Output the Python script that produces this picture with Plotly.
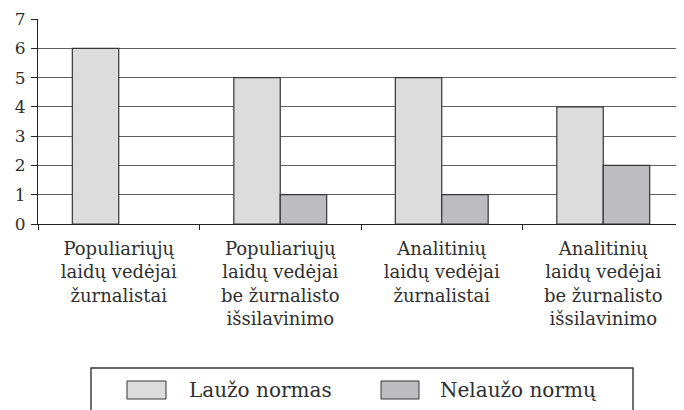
import plotly.graph_objects as go

categories = [
    "Populiariųjų<br>laidų vedėjai<br>žurnalistai",
    "Populiariųjų<br>laidų vedėjai<br>be žurnalisto<br>išsilavinimo",
    "Analitinių<br>laidų vedėjai<br>žurnalistai",
    "Analitinių<br>laidų vedėjai<br>be žurnalisto<br>išsilavinimo",
]
series_names = ["Laužo normas", "Nelaužo normų"]
lauzo = [6, 5, 5, 4]
nelauzo = [0, 1, 1, 2]
y_ticks = [0, 1, 2, 3, 4, 5, 6, 7]

colors = ["#dcdcdd", "#bdbdc1"]
edge = "#353535"
FONT = "DejaVu Serif"

OFF = 8  # page offset of the figure in the browser
W, H = 684, 410
L, R, T, B = 30, 8, 11, 194
PW, PH = W - L - R, H - T - B


def px(x):
    return (x - OFF - L) / PW


def py(y):
    return (H - B - (y - OFF)) / PH


fig = go.Figure()
for name, vals, c in zip(series_names, [lauzo, nelauzo], colors):
    fig.add_trace(go.Bar(
        x=categories, y=vals, name=name,
        marker=dict(color=c, line=dict(
            color=edge, width=[0 if v == 0 else 1.2 for v in vals])),
        showlegend=False,
    ))

fig.update_layout(
    width=W, height=H,
    margin=dict(l=L, r=R, t=T, b=B, pad=0, autoexpand=False),
    paper_bgcolor="white", plot_bgcolor="white",
    barmode="group", bargap=0.425, bargroupgap=0,
    font=dict(family=FONT, color="#2e2e2e", size=17),
    xaxis=dict(
        type="category", tickson="boundaries", ticks="outside", ticklen=5,
        tickcolor="#222", showline=True, linecolor="#222", linewidth=1.2,
        showgrid=False, tickfont=dict(family=FONT, size=18, color="#2e2e2e"),
        ticklabelstandoff=8, automargin=False,
    ),
    yaxis=dict(
        range=[0, 7], tickvals=y_ticks, ticks="outside", ticklen=6,
        tickcolor="#222", showline=True, linecolor="#222", linewidth=1.2,
        showgrid=True, gridcolor="#5f5f5f", gridwidth=1,
        tickfont=dict(family=FONT, size=17, color="#2e2e2e"), zeroline=False,
        ticklabelstandoff=2, automargin=False,
    ),
)

# legend box
fig.add_shape(type="rect", xref="paper", yref="paper",
              x0=px(91), x1=px(633), y0=py(368), y1=py(440),
              line=dict(color="#333", width=1.4), fillcolor="rgba(0,0,0,0)")

swatches = [(127, 166, 187), (381, 419, 438)]
for (sx0, sx1, tx), name, c in zip(swatches, series_names, colors):
    fig.add_shape(type="rect", xref="paper", yref="paper",
                  x0=px(sx0), x1=px(sx1), y0=py(399), y1=py(381),
                  line=dict(color=edge, width=1), fillcolor=c)
    fig.add_annotation(x=px(tx), y=py(390), xref="paper", yref="paper",
                       text=name, showarrow=False, xanchor="left",
                       yanchor="middle",
                       font=dict(family=FONT, size=20, color="#2e2e2e"))

fig.write_html("out.html")
